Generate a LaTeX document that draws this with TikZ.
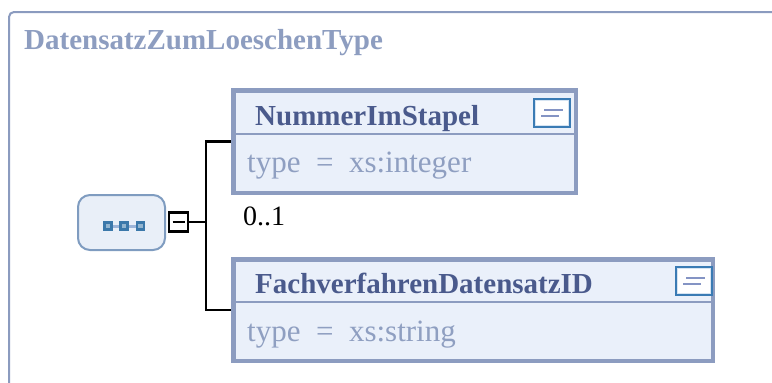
\documentclass[tikz,border=0pt]{standalone}
\usepackage{fontspec}
\setmainfont{Liberation Serif}
\usepackage{tikz}
\usepackage{xcolor}
\usetikzlibrary{positioning,calc}
\definecolor{xsframe}{HTML}{8B9BBF}
\definecolor{xstitle}{HTML}{8D9DC0}
\definecolor{xsborder}{HTML}{8C9CC0}
\definecolor{xsfill}{HTML}{EAF0FA}
\definecolor{xsname}{HTML}{4A5A8C}
\definecolor{xstype}{HTML}{8F9FC1}
\definecolor{xsseqfill}{HTML}{E9EFF8}
\definecolor{xsseqline}{HTML}{7F9CC0}
\definecolor{xsdot}{HTML}{3B78AA}
\definecolor{xsdotlight}{HTML}{9DB5D9}
\definecolor{xsicon}{HTML}{3A7BB4}
\definecolor{xsiconring}{HTML}{D6E4F2}
\definecolor{xsiconline}{HTML}{8494C4}
\tikzset{
  frameLine/.style={draw=xsframe, line width=2pt},
  typeTitle/.style={anchor=base west, inner sep=0pt, text=xstitle, font=\fontsize{29}{35}\selectfont\bfseries},
  seqBox/.style={draw=xsseqline, fill=xsseqfill, rounded corners=12pt, line width=2pt, inner sep=0pt},
  seqDot/.style={draw=xsdot, fill=xsdot!55!white, line width=2.2pt, minimum size=7pt, inner sep=0pt},
  seqLink/.style={draw=xsdotlight, line width=3pt},
  minusBox/.style={draw=black, fill=white, line width=2.2pt, minimum size=19pt, inner sep=0pt},
  connLine/.style={draw=black, line width=2.2pt},
  elemBox/.style={draw=xsborder, fill=xsfill, line width=4.5pt, inner sep=0pt},
  elemRule/.style={draw=xsborder, line width=2.3pt},
  elemName/.style={anchor=base west, inner sep=0pt, text=xsname, font=\fontsize{29}{35}\selectfont\bfseries},
  elemType/.style={anchor=base west, inner sep=0pt, text=xstype, font=\fontsize{31}{37}\selectfont},
  occurs/.style={anchor=base west, inner sep=0pt, text=black, font=\fontsize{28}{34}\selectfont},
  docIcon/.style={draw=xsicon, fill=white, line width=3pt, minimum width=35pt, minimum height=27pt, inner sep=0pt},
  iconRing/.style={draw=xsiconring, line width=1.5pt},
  iconLine/.style={draw=xsiconline, line width=2.5pt}
}
\begin{document}
\begin{tikzpicture}[x=1pt,y=-1pt]
  \path[use as bounding box] (0,0) rectangle (772,383);
  \clip (0,0) rectangle (772,383);

  % outer type frame
  \draw[frameLine, rounded corners=5pt] (9,420) -- (9,12) -- (800,12);
  \node[typeTitle] (title) at (24,49) {DatensatzZumLoeschenType};

  % sequence compositor
  \node[seqBox, minimum width=87pt, minimum height=55pt] (seq) at (121.5,222.5) {};
  \draw[seqLink] (108,226) -- (140.5,226);
  \foreach \x [count=\i] in {108,124,140.5}
    \node[seqDot] (dot\i) at (\x,226) {};
  \node[minusBox] (minus) at (178.5,222) {};
  \draw[line width=2.2pt] ($(minus.center)+(-6,0)$) -- ($(minus.center)+(6,0)$);

  % children
  \node[elemBox, minimum width=342.5pt, minimum height=102.5pt] (elemA) at (404.5,141.5) {};
  \node[elemBox, minimum width=479.5pt, minimum height=101.5pt] (elemB) at (473,310) {};
  \draw[elemRule] ([yshift=-45.75pt]elemA.north west) -- ([yshift=-45.75pt]elemA.north east);
  \draw[elemRule] ([yshift=-44.75pt]elemB.north west) -- ([yshift=-44.75pt]elemB.north east);

  \coordinate (fork) at (206,222);
  \draw[connLine] (minus.east) -- (fork);
  \draw[connLine] (fork) |- (elemA.west);
  \draw[connLine] (fork) |- (elemB.west);

  \node[elemName] (nameA) at (255,125) {NummerImStapel};
  \node[elemType] (typeA) at (247,172) {type\ \ =\ \ xs:integer};
  \node[occurs] (occA) at (243,225) {0..1};
  \node[elemName] (nameB) at (255,293) {FachverfahrenDatensatzID};
  \node[elemType] (typeB) at (247,341) {type\ \ =\ \ xs:string};

  % annotation icons
  \foreach \ic/\pos in {iconA/{(552,113)}, iconB/{(694,281)}} {
    \node[docIcon] (\ic) at \pos {};
    \draw[iconRing] ($(\ic.north west)+(2.5,2.5)$) rectangle ($(\ic.south east)+(-2.5,-2.5)$);
    \draw[iconLine] ($(\ic.center)+(-8,-3)$) -- ($(\ic.center)+(11,-3)$);
    \draw[iconLine] ($(\ic.center)+(-11,3)$) -- ($(\ic.center)+(7,3)$);
  }
\end{tikzpicture}
\end{document}
